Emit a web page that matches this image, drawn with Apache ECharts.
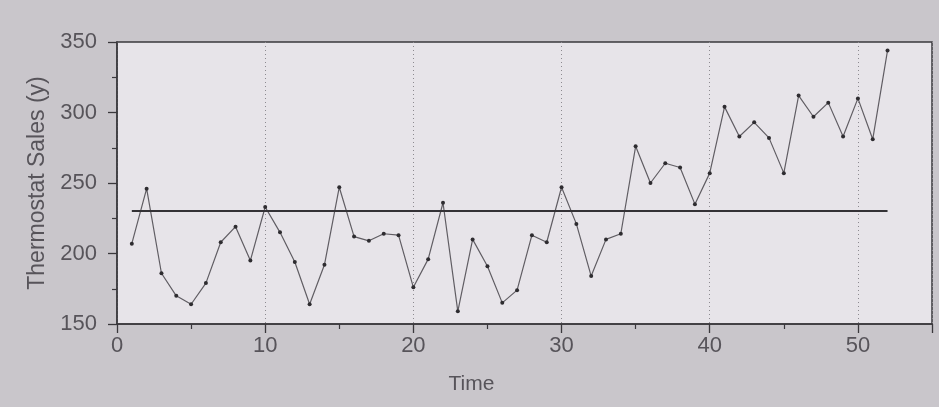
<!DOCTYPE html>
<html>
<head>
<meta charset="utf-8">
<style>
  html, body { margin: 0; padding: 0; background: #c9c6cb; }
  #chart { width: 939px; height: 407px; }
</style>
<script src="https://cdn.jsdelivr.net/npm/echarts@6/dist/echarts.min.js"></script>
</head>
<body>
<div id="chart"></div>
<script>
// Weekly thermostat sales, weeks 1..52
const weeks = [
  1, 2, 3, 4, 5, 6, 7, 8, 9, 10,
  11, 12, 13, 14, 15, 16, 17, 18, 19, 20,
  21, 22, 23, 24, 25, 26, 27, 28, 29, 30,
  31, 32, 33, 34, 35, 36, 37, 38, 39, 40,
  41, 42, 43, 44, 45, 46, 47, 48, 49, 50,
  51, 52
];
const sales = [
  207, 246, 186, 170, 164, 179, 208, 219, 195, 233,
  215, 194, 164, 192, 247, 212, 209, 214, 213, 176,
  196, 236, 159, 210, 191, 165, 174, 213, 208, 247,
  221, 184, 210, 214, 276, 250, 264, 261, 235, 257,
  304, 283, 293, 282, 257, 312, 297, 307, 283, 310,
  281, 344
];
const yTicks = [150, 200, 250, 300, 350];
const xTicks = [0, 10, 20, 30, 40, 50];

// Overall average of the series, drawn as a flat reference line
const meanSales = sales.reduce((a, b) => a + b, 0) / sales.length;

const points = weeks.map((w, i) => [w, sales[i]]);
const font = 'Liberation Sans, Arial, sans-serif';
const labelColor = '#57545a';

const chart = echarts.init(document.getElementById('chart'));
chart.setOption({
  backgroundColor: '#c9c6cb',
  animation: false,
  grid: {
    left: 117, right: 7, top: 42, bottom: 83,
    show: true,
    backgroundColor: '#e7e4e9',
    borderColor: '#3a383c',
    borderWidth: 1.5
  },
  xAxis: {
    type: 'value',
    min: 0, max: 55, interval: 10,
    name: 'Time',
    nameLocation: 'middle',
    nameGap: 50,
    nameTextStyle: { fontFamily: font, fontSize: 21, color: labelColor, padding: [0, 106, 0, 0] },
    axisLine: { show: true, lineStyle: { color: '#3a383c', width: 1.5 } },
    axisTick: { show: true, length: 9, inside: false, lineStyle: { color: '#3a383c', width: 1.3 } },
    minorTick: { show: true, splitNumber: 2, length: 5, lineStyle: { color: '#3a383c', width: 1.2 } },
    axisLabel: {
      fontFamily: font, fontSize: 22, color: labelColor, margin: 11,
      formatter: v => (xTicks.indexOf(v) >= 0 ? String(v) : '')
    },
    splitLine: { show: true, lineStyle: { color: '#8d8a90', type: [1, 3], width: 1 } }
  },
  yAxis: {
    type: 'value',
    min: 150, max: 350, interval: 50,
    name: 'Thermostat Sales (y)',
    nameLocation: 'middle',
    nameGap: 68,
    nameTextStyle: { fontFamily: font, fontSize: 23, color: labelColor },
    axisLine: { show: true, lineStyle: { color: '#3a383c', width: 1.5 } },
    axisTick: { show: true, length: 9, lineStyle: { color: '#3a383c', width: 1.3 } },
    minorTick: { show: true, splitNumber: 2, length: 5, lineStyle: { color: '#3a383c', width: 1.2 } },
    axisLabel: {
      fontFamily: font, fontSize: 22, color: labelColor, margin: 20,
      formatter: v => (yTicks.indexOf(v) >= 0 ? String(v) : '')
    },
    splitLine: { show: false }
  },
  series: [
    {
      type: 'line',
      data: points,
      symbol: 'circle',
      symbolSize: 4,
      itemStyle: { color: '#2e2c30' },
      lineStyle: { color: '#605d63', width: 1.2 },
      markLine: {
        silent: true,
        symbol: 'none',
        label: { show: false },
        lineStyle: { color: '#343236', width: 2, type: 'solid' },
        data: [[
          { coord: [weeks[0], meanSales] },
          { coord: [weeks[weeks.length - 1], meanSales] }
        ]]
      }
    }
  ]
});
</script>
</body>
</html>
